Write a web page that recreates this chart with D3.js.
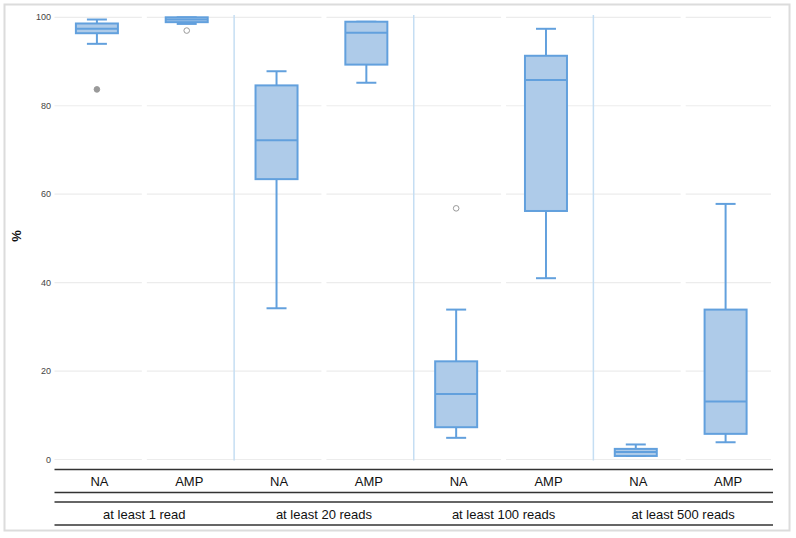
<!DOCTYPE html>
<html><head><meta charset="utf-8">
<script src="https://cdn.jsdelivr.net/npm/d3@7"></script>
<style>body{margin:0;background:#fff}svg{display:block;font-family:"Liberation Sans",Arial,Helvetica,sans-serif}</style>
</head><body><svg id="c" width="796" height="538"></svg>
<script>
const groups = ["at least 1 read","at least 20 reads","at least 100 reads","at least 500 reads"];
const subs = ["NA","AMP"];
const yTicks = [0,20,40,60,80,100];
// per box, ordered group by group, NA then AMP
const whiskerLow  = [94.0, 98.5, 34.2, 85.2,  4.9, 41.0, 0.8,  3.9];
const q1          = [96.4, 98.9, 63.4, 89.3,  7.3, 56.2, 0.8,  5.8];
const median      = [97.4, 99.5, 72.2, 96.5, 14.8, 85.8, 1.7, 13.1];
const q3          = [98.6, 100., 84.6, 99.0, 22.2, 91.3, 2.4, 33.9];
const whiskerHigh = [99.5, 100., 87.8, 99.0, 33.9, 97.4, 3.4, 57.8];
const outlierBox   = [0, 1, 4];
const outlierValue = [83.7, 97.0, 56.8];
const outlierFilled = [true, false, false];

const svg = d3.select("#c");
const left = 54.5, right = 773;
const x = d3.scaleBand().domain(groups).range([left, right]).padding(0);
const xi = d3.scaleBand().domain(subs).range([0, x.bandwidth()]).padding(0);
const y = d3.scaleLinear().domain([0,100]).range([459.5, 17.3]);

// outer frame
svg.append("rect").attr("x",4.5).attr("y",4.5).attr("width",785).attr("height",526)
  .attr("fill","none").attr("stroke","#dcdcdc").attr("stroke-width",2);

// gridlines, broken at group centres
const centers = groups.map(g => x(g) + x.bandwidth()/2);
const segs = [];
let start = left;
centers.forEach(c => { segs.push([start, c-2.5]); start = c+2.5; });
segs.push([start, 771]);
yTicks.forEach(t => {
  segs.forEach(s => svg.append("line").attr("x1",s[0]).attr("x2",s[1])
    .attr("y1",y(t)).attr("y2",y(t)).attr("stroke","#ececec").attr("stroke-width",1.2));
});

// y tick labels
svg.append("g").selectAll("text").data(yTicks).join("text")
  .attr("x",51).attr("y",d=>y(d)).attr("dy","0.35em").attr("text-anchor","end")
  .attr("font-size",9).attr("fill","#444").text(d=>d);

// y title
svg.append("text").attr("transform","translate(21,236) rotate(-90)")
  .attr("text-anchor","middle").attr("font-size",13).attr("font-weight","bold")
  .attr("fill","#111").text("%");

// vertical separators
groups.slice(1).forEach(g => svg.append("line").attr("x1",x(g)).attr("x2",x(g))
  .attr("y1",15).attr("y2",460.5).attr("stroke","#c5def3").attr("stroke-width",1.5));

// boxes
const boxW = 42, capW = 20, off = -2.5;
const stroke = "#62a0dd", fill = "#aecbe9";
const boxes = [];
groups.forEach((g,gi) => subs.forEach((s,si) => {
  const i = gi*2+si;
  boxes.push({cx: x(g)+xi(s)+xi.bandwidth()/2+off, lo: whiskerLow[i], q1: q1[i], md: median[i], q3: q3[i], hi: whiskerHigh[i]});
}));
const bg = svg.append("g");
boxes.forEach(b => {
  const g = bg.append("g").attr("stroke",stroke).attr("stroke-width",2);
  g.append("line").attr("x1",b.cx).attr("x2",b.cx).attr("y1",y(b.hi)).attr("y2",y(b.q3));
  g.append("line").attr("x1",b.cx).attr("x2",b.cx).attr("y1",y(b.q1)).attr("y2",y(b.lo));
  g.append("line").attr("x1",b.cx-capW/2).attr("x2",b.cx+capW/2).attr("y1",y(b.hi)).attr("y2",y(b.hi));
  g.append("line").attr("x1",b.cx-capW/2).attr("x2",b.cx+capW/2).attr("y1",y(b.lo)).attr("y2",y(b.lo));
  g.append("rect").attr("x",b.cx-boxW/2).attr("width",boxW).attr("y",y(b.q3))
    .attr("height",Math.max(0.5,y(b.q1)-y(b.q3))).attr("fill",fill);
  g.append("line").attr("x1",b.cx-boxW/2).attr("x2",b.cx+boxW/2).attr("y1",y(b.md)).attr("y2",y(b.md));
});
// outliers
outlierBox.forEach((bi,k) => {
  svg.append("circle").attr("cx",boxes[bi].cx).attr("cy",y(outlierValue[k])).attr("r",2.8)
    .attr("fill",outlierFilled[k] ? "#9a9a9a" : "#fff").attr("stroke","#9a9a9a").attr("stroke-width",1);
});

// category axis
[469.5, 492.5, 502, 525].forEach(yy => svg.append("line").attr("x1",left).attr("x2",right)
  .attr("y1",yy).attr("y2",yy).attr("stroke","#333").attr("stroke-width",1.5));
groups.forEach(g => subs.forEach(s => svg.append("text")
  .attr("x", x(g)+xi(s)+xi.bandwidth()/2).attr("y",481.5).attr("dy","0.35em")
  .attr("text-anchor","middle").attr("font-size",13).attr("fill","#111").text(s)));
groups.forEach(g => svg.append("text").attr("x",x(g)+x.bandwidth()/2).attr("y",514)
  .attr("dy","0.35em").attr("text-anchor","middle").attr("font-size",13).attr("fill","#111").text(g));
</script></body></html>
